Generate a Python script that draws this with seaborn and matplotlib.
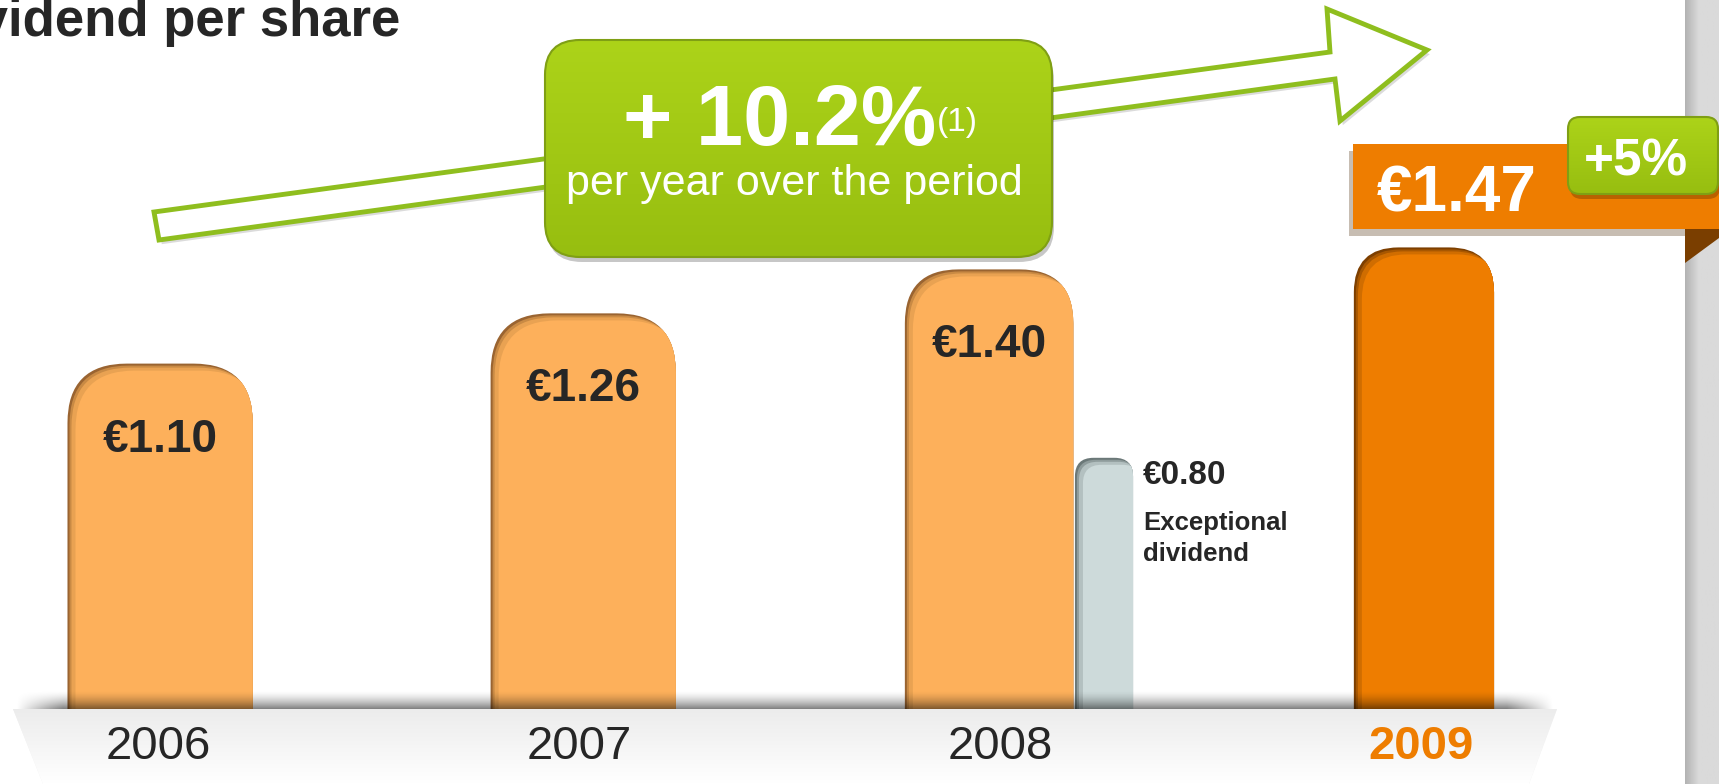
import numpy as np
import pandas as pd
import matplotlib
matplotlib.use("Agg")
import matplotlib.pyplot as plt
import matplotlib.transforms as mtransforms
import matplotlib.patheffects as pe
from matplotlib.patches import FancyBboxPatch, Polygon, Rectangle
from matplotlib.colors import to_rgb
import seaborn as sns

# Data
years = ["2006", "2007", "2008", "2009"]
dividend = [1.10, 1.26, 1.40, 1.47]
exceptional_year = ["2008"]
exceptional_dividend = [0.80]
title = "Dividend per share"
cagr_label = "+ 10.2%"
cagr_note = "(1)"
cagr_text = "per year over the period"
last_growth = "+5%"
exceptional_text = "Exceptional\ndividend"

W, H = 1719, 784
sns.set_theme(style="white")
plt.rcParams["font.family"] = ["Liberation Sans", "DejaVu Sans"]

fig = plt.figure(figsize=(W / 100, H / 100), dpi=100)
fig.patch.set_facecolor("white")
ax = fig.add_axes([0, 0, 1, 1])
# pixel coords, origin top-left (for decorations)
pix = mtransforms.Affine2D().scale(1 / W, -1 / H).translate(0, 1) + fig.transFigure

px_x = 421.0   # pixels per category step
px_y = 314.0   # pixels per euro
x0_px = 158
base_px = 709
xlim = (-x0_px / px_x, (W - x0_px) / px_x)
ylim = (-(H - base_px) / px_y, base_px / px_y)
aspect = px_x / px_y

# Bars through seaborn
df = pd.DataFrame({"year": years, "dividend": dividend})
exc = pd.DataFrame({"year": exceptional_year, "dividend": exceptional_dividend})
sns.barplot(data=df, x="year", y="dividend", hue="year", order=years,
            palette=["#fdb05b"] * 3 + ["#ee7d00"], width=0.44, legend=False, ax=ax)
n_main = len(ax.patches)
sns.barplot(data=exc, x="year", y="dividend", order=years, color="#cddada",
            width=0.138, ax=ax)

rects = list(ax.patches)
geo = [(r.get_x() + r.get_width() / 2, r.get_y() + r.get_height()) for r in rects]
for r in rects:
    r.remove()

# per-bar styling
bar_width = [0.44, 0.44, 0.40, 0.333, 0.138]
bar_shift = [0.005, 0.01, -0.026, 0.007, 0.247]
light = ["#9a6431", "#c98a44", "#e9a252", "#fdb05b"]
dark = ["#7d3f00", "#a85700", "#d06d00", "#ee7d00"]
grey = ["#6b7878", "#8f9c9c", "#b3c0c0", "#cddada"]
bar_layers = [light, light, light, dark, grey]
layer_shift = [(0, 0), (2, 2), (4, 4), (8, 7)]


def rounded_bar(cx, w, top, layers):
    r = 0.32 * w
    left = cx - w / 2
    bottom = -0.25
    style = f"round,pad=0,rounding_size={r}"
    base = FancyBboxPatch((left, bottom), w, top - bottom, boxstyle=style,
                          mutation_aspect=aspect, fc=layers[0], ec="none", zorder=2)
    ax.add_patch(base)
    for k in range(1, len(layers)):
        dx, dy = layer_shift[k]
        p = FancyBboxPatch((left + dx / px_x, bottom), w, top - bottom - dy / px_y,
                           boxstyle=style, mutation_aspect=aspect,
                           fc=layers[k], ec="none", zorder=2 + 0.01 * k)
        ax.add_patch(p)
        p.set_clip_path(base)
    return left, left + w


edges = []
for i, ((cx, top), w, s, lay) in enumerate(zip(geo, bar_width, bar_shift, bar_layers)):
    edges.append(rounded_bar(cx + s, w, top, lay))

# value labels inside the regular bars
for i, v in enumerate(dividend[:3]):
    cx = geo[i][0] + bar_shift[i]
    ax.text(cx, v - 0.28, f"€{v:.2f}", ha="center", va="baseline",
            fontsize=33, fontweight="bold", color="#262626", zorder=6)

# exceptional dividend label
ex_v = exceptional_dividend[0]
ex_right = edges[n_main][1]
ax.text(ex_right + 10 / px_x, ex_v - 0.085, f"€{ex_v:.2f}", ha="left", va="baseline",
        fontsize=24, fontweight="bold", color="#262626", zorder=6)
ax.text(ex_right + 10 / px_x, ex_v - 0.17, exceptional_text, ha="left", va="top",
        fontsize=18.5, fontweight="bold", color="#262626", linespacing=1.35, zorder=6)

# floor
floor = Polygon([(13, 709), (1557, 709), (1529, 784), (43, 784)], closed=True,
                transform=pix, fc="#f2f2f2", ec="none", zorder=4)
ax.add_patch(floor)
g = np.linspace(0, 1, 64)[:, None, None]
c_top, c_bot = np.array(to_rgb("#ececec")), np.array(to_rgb("#ffffff"))
im = ax.imshow(c_top + (c_bot - c_top) * g, extent=(13, 1557, 784, 709), transform=pix,
               aspect="auto", interpolation="bilinear", zorder=4.1)
im.set_clip_path(floor)

# shadow band over the bar feet
ny, nx = 40, 200
ay = np.linspace(0, 1, ny)[:, None] ** 1.6
axx = np.clip(np.minimum(np.arange(nx), np.arange(nx)[::-1]) / 6.0, 0, 1)[None, :]
sh = np.zeros((ny, nx, 4))
sh[..., 3] = 0.5 * ay * axx
ax.imshow(sh, extent=(13, 1557, 709, 690), transform=pix, aspect="auto",
          interpolation="bilinear", zorder=5)

# year labels
xblend = mtransforms.blended_transform_factory(ax.transData, pix)
for i, yr in enumerate(years):
    last = i == len(years) - 1
    ax.text(i, 759, yr, transform=xblend, ha="center", va="baseline", fontsize=34,
            fontweight="bold" if last else "normal",
            color="#ee7d00" if last else "#262626", zorder=6)

# right gray strip
sx = np.linspace(0, 1, 40)[None, :, None]
s_l, s_r = np.array(to_rgb("#b3b3b3")), np.array(to_rgb("#dadada"))
strip = s_l + (s_r - s_l) * np.clip(sx * 2.5, 0, 1)
ax.imshow(np.repeat(strip, 2, axis=0), extent=(1685, 1719, 784, 0), transform=pix,
          aspect="auto", interpolation="bilinear", zorder=3)

# growth arrow
arrow = Polygon([(154, 212), (1330, 52), (1327, 9), (1427, 50), (1340, 121),
                 (1335, 79), (159, 240)], closed=True, transform=pix,
                fc="white", ec="#8fbe1e", lw=3.5, joinstyle="miter", zorder=3,
                path_effects=[pe.SimplePatchShadow(offset=(2, -3), shadow_rgbFace="#999999",
                                                   alpha=0.35), pe.Normal()])
ax.add_patch(arrow)


def green_box(x, y, w, h, r, z):
    style = f"round,pad=0,rounding_size={r}"
    ax.add_patch(FancyBboxPatch((x + 2, y + 5), w, h, boxstyle=style, transform=pix,
                                fc="black", alpha=0.22, ec="none", zorder=z))
    box = FancyBboxPatch((x, y), w, h, boxstyle=style, transform=pix,
                         fc="#a3cb14", ec="none", zorder=z + 0.1)
    ax.add_patch(box)
    gg = np.linspace(0, 1, 64)[:, None, None]
    top, bot = np.array(to_rgb("#acd319")), np.array(to_rgb("#97be10"))
    img = ax.imshow(top + (bot - top) * gg, extent=(x, x + w, y + h, y), transform=pix,
                    aspect="auto", interpolation="bilinear", zorder=z + 0.2)
    img.set_clip_path(box)
    ax.add_patch(FancyBboxPatch((x, y), w, h, boxstyle=style, transform=pix,
                                fc="none", ec="#7f9f14", lw=1.5, zorder=z + 0.3))


# CAGR box
green_box(545, 40, 507, 217, 35, 4)
ax.text(936, 145, cagr_label, transform=pix, ha="right", va="baseline", fontsize=61,
        fontweight="bold", color="white", zorder=5)
ax.text(937, 131, cagr_note, transform=pix, ha="left", va="baseline", fontsize=24,
        color="white", zorder=5)
ax.text(794, 195, cagr_text, transform=pix, ha="center", va="baseline", fontsize=31,
        color="white", zorder=5)

# 2009 callout ribbon
ax.add_patch(Rectangle((1353, 144), 366, 85, transform=pix, fc="#ee7d00", ec="none",
                       zorder=7, path_effects=[pe.SimplePatchShadow(offset=(-3, -5),
                                                                    alpha=0.3), pe.Normal()]))
ax.add_patch(Polygon([(1685, 229), (1719, 229), (1719, 238), (1685, 263)], closed=True,
                     transform=pix, fc="#7a3e00", ec="none", zorder=7))
ax.text(1377, 212, f"€{dividend[-1]:.2f}", transform=pix, ha="left", va="baseline",
        fontsize=46, fontweight="bold", color="white", zorder=8)
green_box(1568, 117, 150, 77, 12, 8)
ax.text(1636, 176, last_growth, transform=pix, ha="center", va="baseline", fontsize=37,
        fontweight="bold", color="white", zorder=9)

# title (cut at the left edge as in the slide)
ax.text(400, 36, title, transform=pix, ha="right", va="baseline", fontsize=38,
        fontweight="bold", color="#262626", zorder=10)

ax.set_xlim(*xlim)
ax.set_ylim(*ylim)
ax.set_axis_off()
fig.savefig("out.png", dpi=100, facecolor="white")
